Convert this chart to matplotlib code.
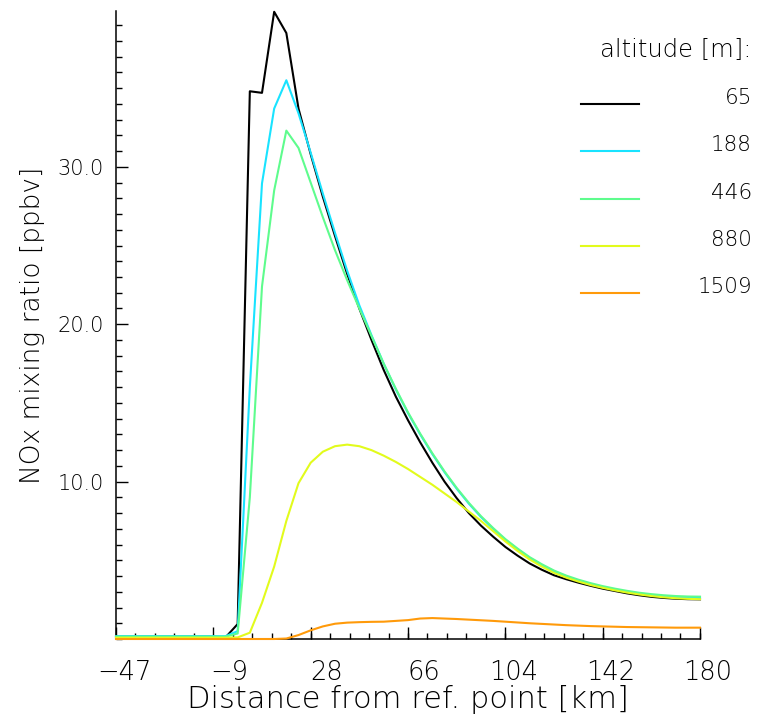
import numpy as np
import matplotlib
matplotlib.use("Agg")
import matplotlib.pyplot as plt
from matplotlib.lines import Line2D
from matplotlib.ticker import FixedLocator, AutoMinorLocator
from matplotlib.transforms import ScaledTranslation

plt.rcParams['font.family'] = ['DejaVu Sans']
plt.rcParams['font.weight'] = 'light'
plt.rcParams['axes.labelweight'] = 'light'

# distance along the track [km]
dist = [-47.0, -42.27, -37.54, -32.81, -28.08, -23.35, -18.63, -13.9, -9.17, -4.44,
        0.29, 5.02, 9.75, 14.48, 19.21, 23.94, 28.67, 33.4, 38.13, 42.85,
        47.58, 52.31, 57.04, 61.77, 66.5, 71.23, 75.96, 80.69, 85.42, 90.15,
        94.88, 99.6, 104.33, 109.06, 113.79, 118.52, 123.25, 127.98, 132.71, 137.44,
        142.17, 146.9, 151.63, 156.35, 161.08, 165.81, 170.54, 175.27, 180.0]

# NOx mixing ratio [ppbv] per altitude
nox_65 = [0.15, 0.15, 0.15, 0.15, 0.15, 0.15, 0.15, 0.15, 0.15, 0.1,
          0.95, 34.8, 34.7, 39.85, 38.5, 33.7, 30.8, 28.1, 25.6, 23.2,
          21.0, 19.0, 17.1, 15.4, 13.9, 12.5, 11.2, 10.0, 8.95, 8.0,
          7.2, 6.5, 5.85, 5.3, 4.8, 4.4, 4.05, 3.8, 3.58, 3.38,
          3.2, 3.05, 2.9, 2.78, 2.68, 2.61, 2.56, 2.53, 2.52]
nox_188 = [0.18, 0.18, 0.18, 0.18, 0.18, 0.18, 0.18, 0.18, 0.18, 0.18,
           0.5, 16.0, 28.95, 33.7, 35.5, 33.4, 30.9, 28.3, 25.8, 23.4,
           21.2, 19.3, 17.5, 15.85, 14.35, 13.0, 11.75, 10.6, 9.55, 8.6,
           7.75, 7.0, 6.3, 5.7, 5.15, 4.7, 4.3, 3.98, 3.72, 3.5,
           3.3, 3.14, 3.0, 2.88, 2.78, 2.71, 2.66, 2.63, 2.62]
nox_446 = [0.15, 0.15, 0.15, 0.15, 0.15, 0.15, 0.15, 0.15, 0.15, 0.15,
           0.35, 9.0, 22.4, 28.5, 32.3, 31.2, 29.0, 26.8, 24.7, 22.8,
           21.0, 19.25, 17.5, 15.9, 14.4, 13.05, 11.8, 10.65, 9.6, 8.65,
           7.8, 7.05, 6.35, 5.75, 5.2, 4.75, 4.35, 4.03, 3.77, 3.55,
           3.36, 3.2, 3.06, 2.94, 2.85, 2.78, 2.73, 2.7, 2.69]
nox_880 = [0.08, 0.08, 0.08, 0.08, 0.08, 0.08, 0.08, 0.08, 0.08, 0.08,
           0.1, 0.4, 2.3, 4.6, 7.5, 9.9, 11.2, 11.9, 12.25, 12.35,
           12.25, 12.0, 11.65, 11.25, 10.8, 10.3, 9.8, 9.25, 8.7, 8.1,
           7.5, 6.85, 6.2, 5.6, 5.05, 4.6, 4.2, 3.9, 3.65, 3.43,
           3.25, 3.09, 2.95, 2.83, 2.73, 2.65, 2.59, 2.55, 2.53]
nox_1509 = [0.0, 0.0, 0.0, 0.0, 0.0, 0.0, 0.0, 0.0, 0.0, 0.0,
            0.0, 0.0, 0.0, 0.0, 0.03, 0.25, 0.55, 0.8, 0.97, 1.04,
            1.07, 1.09, 1.1, 1.15, 1.2, 1.3, 1.33, 1.3, 1.27, 1.23,
            1.19, 1.15, 1.1, 1.05, 1.0, 0.96, 0.92, 0.88, 0.85, 0.82,
            0.8, 0.78, 0.76, 0.75, 0.74, 0.73, 0.72, 0.72, 0.72]

altitudes = ['65', '188', '446', '880', '1509']
series = [nox_65, nox_188, nox_446, nox_880, nox_1509]
colors = ['#000000', '#19e3ff', '#5efc8d', '#e2fb1c', '#ff9a0a']

xticks = [-47.0, -9.17, 28.67, 66.5, 104.33, 142.17, 180.0]
xtick_labels = ['\u221247', '\u22129', '28', '66', '104', '142', '180']
yticks = [10.0, 20.0, 30.0]
ytick_labels = ['10.0', '20.0', '30.0']

fig = plt.figure(figsize=(7.57, 7.28), dpi=100)
ax = fig.add_axes([116/757, 89/728, 584/757, 628/728])

for vals, c in zip(series, colors):
    ax.plot(dist, vals, color=c, lw=1.5, zorder=3, clip_on=False)

ax.set_xlim(-47, 180)
ax.set_ylim(0, 39.9)

for s in ['top', 'right']:
    ax.spines[s].set_visible(False)
for s in ['left', 'bottom']:
    ax.spines[s].set_linewidth(1.1)

ax.xaxis.set_major_locator(FixedLocator(xticks))
ax.xaxis.set_minor_locator(AutoMinorLocator(5))
ax.yaxis.set_major_locator(FixedLocator(yticks))
ax.yaxis.set_minor_locator(AutoMinorLocator(10))
ax.set_xticklabels(xtick_labels, fontsize=18.5)
ax.set_yticklabels(ytick_labels, fontsize=15)
ax.tick_params(which='major', direction='in', length=8.5, width=1.0)
ax.tick_params(which='minor', direction='in', length=4.3, width=1.0)
ax.tick_params(axis='x', which='major', pad=15)
ax.tick_params(axis='y', which='major', pad=9)

# IDL pads the labels to 4 characters, so short labels sit right of their tick
for lbl, txt in zip(ax.get_xticklabels(), xtick_labels):
    dx = 8 * (4 - len(txt)) / 100.0
    lbl.set_transform(lbl.get_transform() + ScaledTranslation(dx, 0, fig.dpi_scale_trans))

ax.set_xlabel('Distance from ref. point [km]', fontsize=22, labelpad=0)
ax.set_ylabel('NOx mixing ratio [ppbv]', fontsize=19, labelpad=9)

# legend drawn by hand, labels right-aligned like the original
fig.text(752/757, 1 - 50/728, 'altitude [m]:', fontsize=17.5, ha='right', va='center')
for i, (alt, c) in enumerate(zip(altitudes, colors)):
    yt = 98 + 47.3 * i
    fig.text(752/757, 1 - yt/728, alt, fontsize=15.5, ha='right', va='center')
    fig.add_artist(Line2D([581/757, 639/757], [1 - (yt + 6)/728] * 2,
                          color=c, lw=1.5, transform=fig.transFigure))

fig.savefig('out.png', dpi=100)
